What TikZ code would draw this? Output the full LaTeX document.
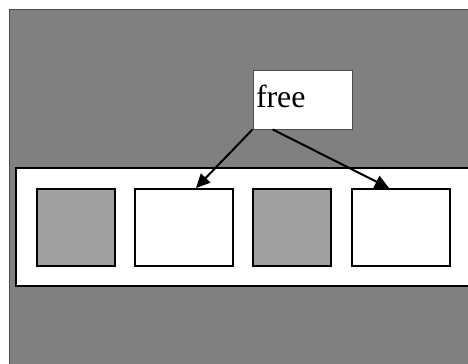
\documentclass[tikz,border=0pt]{standalone}
\usepackage{fontspec}
\setmainfont{Liberation Serif}
\usetikzlibrary{arrows.meta}
\definecolor{bggray}{HTML}{808080}
\definecolor{usedgray}{HTML}{A0A0A0}
\tikzset{
  slot/.style={draw=black, line width=2bp, minimum height=77bp, inner sep=0pt},
  usedslot/.style={slot, fill=usedgray, minimum width=78bp},
  freeslot/.style={slot, fill=white, minimum width=98bp},
  ptr/.style={-{Triangle[length=14bp,width=13bp]}, line width=2bp}
}
\begin{document}
\begin{tikzpicture}[x=1bp,y=-1bp]
    \useasboundingbox (0,0) rectangle (468,363);
    \clip (0,0) rectangle (468,363);
    % background and strip
    \fill[white] (0,0) rectangle (468,363);
    \draw[fill=bggray, draw=black!70, line width=0.8bp] (9.5,9.5) rectangle (490,390);
    \draw[fill=white, line width=2bp] (16,168) rectangle (490,286);
    % cells
    \node[usedslot] (cell1) at (76,227.5) {};
    \node[freeslot] (cell2) at (184,227.5) {};
    \node[usedslot] (cell3) at (292,227.5) {};
    \node[freeslot] (cell4) at (401,227.5) {};
    % free list head
    \node[draw=black!70, fill=white, line width=0.8bp, minimum height=59bp,
          text width=93bp, align=left, inner xsep=3bp, inner ysep=0pt,
          text height=22bp, text depth=7bp,
          font=\fontsize{32}{32}\selectfont] (free) at (302.5,99.5) {free};
    \draw[ptr] (free.south west) -- ([xshift=12bp]cell2.north);
    \draw[ptr] ([xshift=20bp]free.south west) -- ([xshift=-12bp]cell4.north);
  \end{tikzpicture}
\end{document}
